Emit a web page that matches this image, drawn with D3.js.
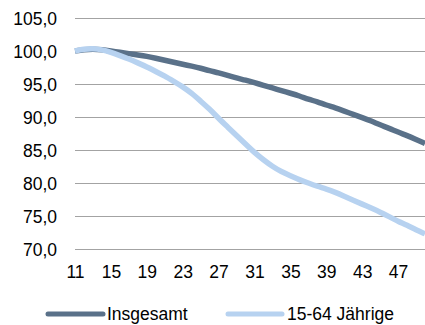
<!DOCTYPE html>
<html><head><meta charset="utf-8">
<script src="https://cdn.jsdelivr.net/npm/d3@7"></script>
<style>body{margin:0;background:#fff}svg{display:block}text{font-family:"Liberation Sans",Arial,sans-serif;fill:#000}</style>
</head><body><div id="c"></div>
<script>
const years = d3.range(11, 51);
const insgesamt = [100.0,100.2,100.3,100.2,100.0,99.8,99.6,99.4,99.2,98.9,98.6,98.3,98.0,97.7,97.4,97.0,96.7,96.3,95.9,95.6,95.2,94.8,94.4,94.0,93.6,93.2,92.7,92.3,91.8,91.4,90.9,90.4,89.9,89.4,88.8,88.3,87.7,87.2,86.6,86.0];
const jaehrige = [100.0,100.3,100.4,100.2,99.8,99.3,98.8,98.2,97.6,96.9,96.2,95.4,94.6,93.6,92.4,91.2,89.8,88.5,87.2,85.9,84.6,83.5,82.5,81.7,81.1,80.5,80.0,79.5,79.1,78.6,78.0,77.4,76.8,76.2,75.6,74.9,74.2,73.6,72.9,72.3];
const yTicks = [70,75,80,85,90,95,100,105];
const xTicks = [11,15,19,23,27,31,35,39,43,47];
const seriesNames = ["Insgesamt","15-64 Jährige"];
const colors = ["#5a7189","#b7d2f0"];

const W=425,H=325;
const svg=d3.select("#c").append("svg").attr("width",W).attr("height",H);
const x=d3.scaleLinear().domain([11,50]).range([75,425]);
const y=d3.scaleLinear().domain([70,105]).range([249,18]);
const FS=17.5;

const grid=svg.append("g").call(d3.axisLeft(y).tickValues(yTicks).tickSize(0).tickPadding(0).tickFormat(d=>d3.format(".1f")(d).replace(".",",")));
grid.select(".domain").remove();
grid.selectAll(".tick line").attr("x1",75).attr("x2",425).attr("stroke","#a3a3a3").attr("stroke-width",1.2);
grid.selectAll(".tick text").attr("x",57).attr("text-anchor","end").attr("font-size",FS).attr("dy","0.35em").style("font-family","'Liberation Sans',Arial,sans-serif");

const xa=svg.append("g").attr("transform","translate(0,249)").call(d3.axisBottom(x).tickValues(xTicks).tickSize(0).tickPadding(0));
xa.select(".domain").remove();
xa.selectAll(".tick text").attr("y",29).attr("dy",0).attr("font-size",FS).style("font-family","'Liberation Sans',Arial,sans-serif");

const line=d3.line().x((d,i)=>x(years[i])).y(d=>y(d)).curve(d3.curveBasis);
[insgesamt,jaehrige].forEach((s,i)=>{
  svg.append("path").datum(s).attr("d",line).attr("fill","none").attr("stroke",colors[i]).attr("stroke-width",5.5).attr("stroke-linejoin","round");
});

const lg=[[48,103,107],[228,282,287]];
seriesNames.forEach((n,i)=>{
  svg.append("line").attr("x1",lg[i][0]).attr("x2",lg[i][1]).attr("y1",314).attr("y2",314).attr("stroke",colors[i]).attr("stroke-width",5).attr("stroke-linecap","round");
  svg.append("text").attr("x",lg[i][2]).attr("y",320).attr("font-size",FS).text(n);
});
</script></body></html>
